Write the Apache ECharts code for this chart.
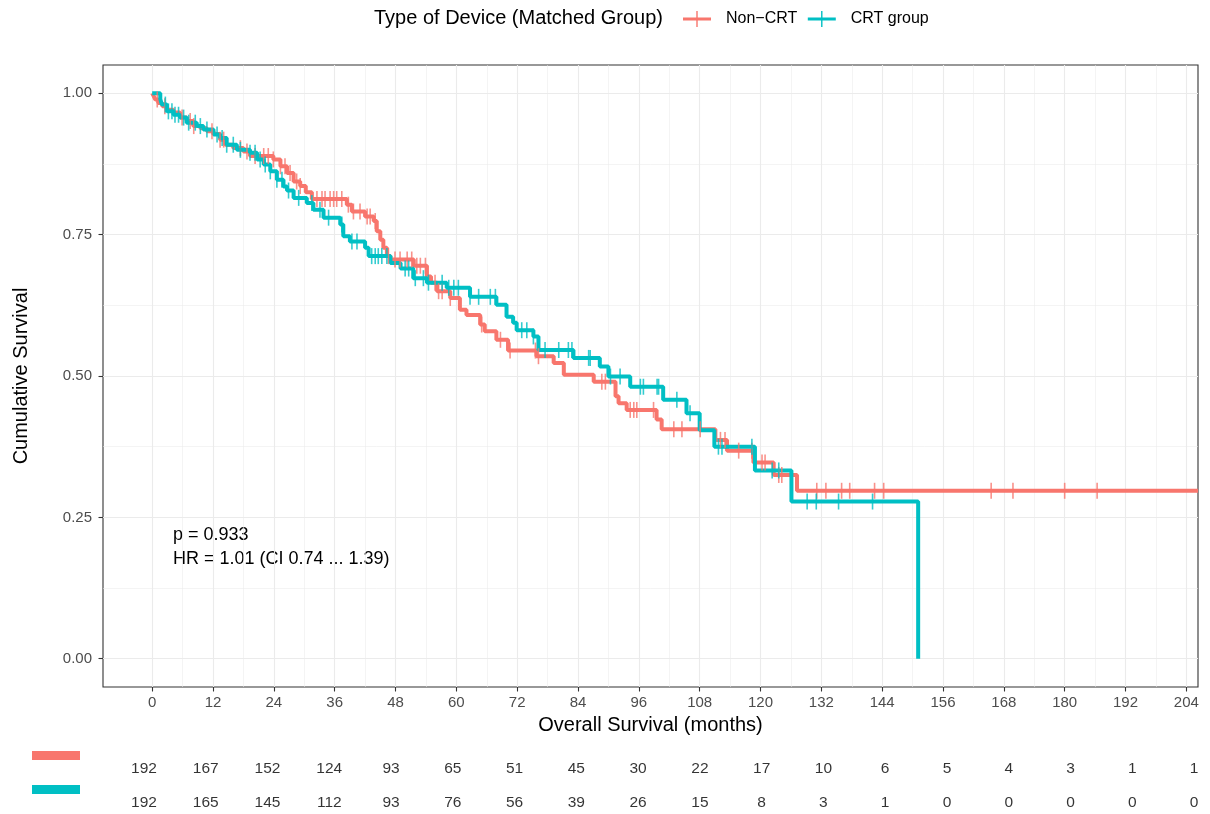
<!DOCTYPE html>
<html>
<head>
<meta charset="utf-8">
<title>Kaplan-Meier: Type of Device</title>
<script src="https://cdn.jsdelivr.net/npm/echarts@6/dist/echarts.min.js"></script>
<style>
  html, body { margin: 0; padding: 0; background: #fff; }
  #chart { width: 1210px; height: 814px; }
</style>
</head>
<body>
<div id="chart"></div>
<script>
// tick labels
const monthTicks = [0, 12, 24, 36, 48, 60, 72, 84, 96, 108, 120, 132, 144, 156, 168, 180, 192, 204];
const monthMinor = [6, 18, 30, 42, 54, 66, 78, 90, 102, 114, 126, 138, 150, 162, 174, 186, 198];
const survTicks = [0, 0.25, 0.5, 0.75, 1];
const survMinor = [0.125, 0.375, 0.625, 0.875];

// Non-CRT curve (event time, survival after step)
const nonCrtTime = [0, 0.3, 0.6, 1.2, 2.0, 2.9, 4.2, 5.5, 6.8, 8.1, 9.5, 10.8, 12.1, 13.4, 14.4, 16.0, 18.0, 19.3, 23.9,
  25.3, 26.6, 27.9, 29.2, 30.3, 31.5, 38.4, 39.4, 42.0, 43.7, 44.3, 45.0, 45.6, 46.3, 47.0, 51.6, 54.2, 55.0, 56.2,
  58.8, 60.7, 62.0, 64.7, 65.6, 67.9, 70.2, 75.8, 79.2, 81.2, 87.1, 91.4, 92.0, 93.6, 99.5, 100.5, 111.1, 113.4,
  118.6, 122.6, 127.2, 206.3];
const nonCrtSurv = [1, 0.995, 0.989, 0.983, 0.977, 0.971, 0.966, 0.957, 0.951, 0.942, 0.938, 0.933, 0.928, 0.918, 0.909,
  0.903, 0.897, 0.889, 0.883, 0.871, 0.859, 0.844, 0.836, 0.825, 0.813, 0.803, 0.791, 0.782, 0.774, 0.756, 0.741,
  0.727, 0.712, 0.706, 0.695, 0.676, 0.665, 0.650, 0.638, 0.617, 0.608, 0.591, 0.579, 0.564, 0.545, 0.535, 0.523,
  0.502, 0.490, 0.464, 0.452, 0.440, 0.423, 0.406, 0.387, 0.368, 0.347, 0.325, 0.297, 0.297];
const nonCrtCensor = [1.0, 2.5, 5.9, 7.5, 8.2, 11.8, 13.4, 14.1, 17.4, 18.7, 20.3, 22.0, 22.9, 23.9, 25.3, 26.2, 27.2,
  28.5, 29.2, 32.5, 33.5, 34.1, 35.1, 35.8, 36.4, 37.4, 38.7, 39.7, 41.0, 42.4, 43.0, 44.0, 46.6, 47.9, 48.9, 50.3,
  51.2, 52.2, 52.9, 53.9, 55.8, 56.5, 57.2, 58.8, 65.0, 68.7, 70.6, 75.6, 76.2, 88.7, 89.4, 94.3, 95.0, 95.6, 98.9,
  102.9, 104.5, 108.1, 112.1, 113.0, 115.7, 118.3, 120.3, 120.9, 123.6, 124.2, 131.1, 132.9, 136.0, 137.6, 142.5,
  144.3, 165.5, 169.8, 180.0, 186.4];

// CRT group curve
const crtTime = [0, 1.6, 1.9, 2.9, 4.2, 5.5, 6.8, 8.8, 10.1, 12.1, 13.4, 14.7, 16.7, 19.3, 20.7, 22.0, 23.3, 24.6,
  25.9, 26.6, 27.9, 30.5, 31.8, 33.8, 37.1, 37.7, 39.0, 42.0, 42.7, 47.0, 49.0, 51.5, 54.2, 58.1, 62.7, 67.9, 69.9,
  71.2, 71.9, 75.2, 76.2, 83.1, 88.3, 90.0, 94.3, 100.8, 105.4, 108.0, 110.9, 118.9, 126.1, 151.1];
const crtSurv = [1, 0.990, 0.980, 0.968, 0.962, 0.957, 0.948, 0.942, 0.936, 0.927, 0.921, 0.909, 0.900, 0.895, 0.883,
  0.874, 0.862, 0.847, 0.835, 0.828, 0.815, 0.806, 0.794, 0.780, 0.768, 0.747, 0.738, 0.727, 0.712, 0.700, 0.690,
  0.673, 0.665, 0.656, 0.640, 0.626, 0.605, 0.594, 0.581, 0.570, 0.546, 0.532, 0.517, 0.499, 0.481, 0.458, 0.434,
  0.404, 0.375, 0.333, 0.278, 0];
const crtCensor = [2.6, 3.2, 3.9, 4.5, 5.2, 6.2, 7.2, 8.5, 9.5, 10.8, 12.8, 13.8, 14.7, 16.0, 17.4, 19.3, 20.3, 21.3,
  22.3, 23.3, 24.6, 25.6, 26.9, 28.9, 31.5, 33.1, 34.8, 37.4, 39.4, 40.4, 43.3, 44.0, 44.6, 45.3, 46.3, 49.9, 50.6,
  51.9, 53.5, 54.5, 57.2, 58.5, 59.5, 60.4, 62.7, 64.4, 66.7, 67.7, 72.9, 73.9, 75.2, 77.5, 80.2, 82.1, 82.8, 86.1,
  86.4, 90.4, 92.3, 96.3, 96.9, 99.6, 99.9, 103.5, 106.1, 111.7, 112.4, 118.3, 122.3, 123.6, 129.2, 131.0, 135.4,
  142.1];

// number at risk
const riskTimes = [0, 12, 24, 36, 48, 60, 72, 84, 96, 108, 120, 132, 144, 156, 168, 180, 192, 204];
const nonCrtRisk = [192, 167, 152, 124, 93, 65, 51, 45, 30, 22, 17, 10, 6, 5, 4, 3, 1, 1];
const crtRisk = [192, 165, 145, 112, 93, 76, 56, 39, 26, 15, 8, 3, 1, 0, 0, 0, 0, 0];

const groups = ['Non−CRT', 'CRT group'];
const RED = '#F8766D';
const TEAL = '#00BFC4';
const FONT = '"Liberation Sans", Arial, Helvetica, sans-serif';
const xMin = -9.7, xMax = 206.3;

function survAt(times, surv, t) {
  let s = surv[0];
  for (let i = 0; i < times.length; i++) {
    if (times[i] <= t) s = surv[i];
  }
  return s;
}

const zip = (a, b) => a.map((v, i) => [v, b[i]]);
const censorPts = (c, times, surv) => c.map(t => [t, survAt(times, surv, t)]);

const chart = echarts.init(document.getElementById('chart'));

// shared bits for the hidden minor-grid axes
const minorAxis = (values) => ({
  axisLine: { show: false, onZero: false },
  axisTick: { show: false, customValues: values },
  axisLabel: { show: false },
  splitLine: { show: true, lineStyle: { color: '#ebebeb', width: 0.55 } }
});

const option = {
  animation: false,
  textStyle: { fontFamily: FONT },
  grid: [
    { left: 103, top: 65, width: 1095, height: 622, show: true, borderColor: '#333', borderWidth: 1.1, backgroundColor: '#fff' },
    // risk table rows: index 0 and 1 sit 34px apart
    { left: 144, top: 684, width: 1050, height: 129.2 }
  ],
  legend: {
    data: groups,
    left: 683,
    top: 11,
    padding: 0,
    itemWidth: 28,
    itemHeight: 16,
    itemGap: 10.5,
    icon: 'path://M0,6.5H28V9.5H0Z M13.3,0H14.7V16H13.3Z',
    itemStyle: { borderWidth: 0 },
    textStyle: { fontSize: 16, color: '#000', padding: [0, 0, 0, 10] }
  },
  xAxis: [
    {
      type: 'value', gridIndex: 0, position: 'bottom', min: xMin, max: xMax,
      name: 'Overall Survival (months)', nameLocation: 'middle', nameGap: 25,
      nameTextStyle: { fontSize: 20, color: '#000' },
      axisLine: { show: false, onZero: false },
      axisTick: { show: true, length: 4.5, lineStyle: { color: '#333', width: 1.1 }, customValues: monthTicks },
      axisLabel: { customValues: monthTicks, margin: 8.5, fontSize: 15, color: '#4d4d4d' },
      splitLine: { show: true, lineStyle: { color: '#ebebeb', width: 1.1 } }
    },
    Object.assign({ type: 'value', gridIndex: 0, position: 'bottom', min: xMin, max: xMax }, minorAxis(monthMinor)),
    { type: 'value', gridIndex: 1, min: 0, max: 204, show: false }
  ],
  yAxis: [
    {
      type: 'value', gridIndex: 0, position: 'left', min: -0.05, max: 1.05,
      name: 'Cumulative Survival', nameLocation: 'middle', nameGap: 72,
      nameTextStyle: { fontSize: 20, color: '#000' },
      axisLine: { show: false, onZero: false },
      axisTick: { show: true, length: 4.5, lineStyle: { color: '#333', width: 1.1 }, customValues: survTicks },
      axisLabel: { customValues: survTicks, formatter: v => v.toFixed(2), margin: 11, fontSize: 15, color: '#4d4d4d' },
      splitLine: { show: true, lineStyle: { color: '#ebebeb', width: 1.1 } }
    },
    Object.assign({ type: 'value', gridIndex: 0, position: 'left', min: -0.05, max: 1.05 }, minorAxis(survMinor)),
    { type: 'value', gridIndex: 1, min: -2.5, max: 1.3, inverse: true, show: false }
  ],
  series: [
    {
      name: groups[0], type: 'line', step: 'end', showSymbol: false, xAxisIndex: 0, yAxisIndex: 0,
      data: zip(nonCrtTime, nonCrtSurv), lineStyle: { color: RED, width: 4 }, itemStyle: { color: RED }, z: 3
    },
    {
      name: groups[1], type: 'line', step: 'end', showSymbol: false, xAxisIndex: 0, yAxisIndex: 0,
      data: zip(crtTime, crtSurv), lineStyle: { color: TEAL, width: 4 }, itemStyle: { color: TEAL }, z: 3
    },
    {
      name: 'Non−CRT censored', type: 'scatter', xAxisIndex: 0, yAxisIndex: 0, symbol: 'rect', symbolSize: [1.6, 16],
      data: censorPts(nonCrtCensor, nonCrtTime, nonCrtSurv), itemStyle: { color: RED }, z: 4
    },
    {
      name: 'CRT censored', type: 'scatter', xAxisIndex: 0, yAxisIndex: 0, symbol: 'rect', symbolSize: [1.6, 16],
      data: censorPts(crtCensor, crtTime, crtSurv), itemStyle: { color: TEAL }, z: 4
    },
    {
      name: 'risk table', type: 'scatter', xAxisIndex: 2, yAxisIndex: 2, symbolSize: 0.1,
      itemStyle: { color: '#fff' },
      data: riskTimes.map((t, i) => [t, 0, nonCrtRisk[i]])
        .concat(riskTimes.map((t, i) => [t, 1, crtRisk[i]])),
      label: { show: true, position: 'inside', formatter: p => p.value[2], fontSize: 15.5, color: '#000' }
    }
  ],
  graphic: [
    { type: 'text', x: 374, y: 18, style: { text: 'Type of Device (Matched Group)', fontSize: 20, fontFamily: FONT, fill: '#000', verticalAlign: 'middle' } },
    { type: 'text', x: 173, y: 535, style: { text: 'p = 0.933', fontSize: 18, fontFamily: FONT, fill: '#000', verticalAlign: 'middle' } },
    { type: 'text', x: 173, y: 559, style: { text: 'HR = 1.01 (CI 0.74 ... 1.39)', fontSize: 18, fontFamily: FONT, fill: '#000', verticalAlign: 'middle' } },
    { type: 'rect', shape: { x: 32, y: 751, width: 48, height: 9 }, style: { fill: RED } },
    { type: 'rect', shape: { x: 32, y: 785, width: 48, height: 9 }, style: { fill: TEAL } }
  ]
};

chart.setOption(option);
window.addEventListener('resize', () => chart.resize());
</script>
</body>
</html>
